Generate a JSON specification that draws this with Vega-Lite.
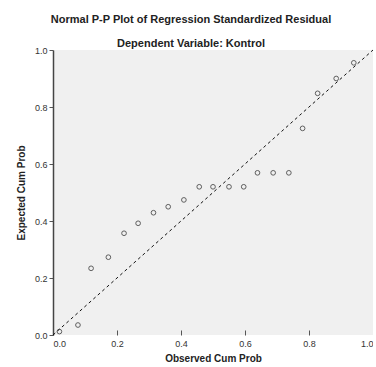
{
  "$schema": "https://vega.github.io/schema/vega-lite/v6.json",
  "autosize": "none",
  "width": 320,
  "height": 285,
  "padding": {"left": 53, "top": 50, "right": 0, "bottom": 32},
  "background": "white",
  "title": {
    "text": "Normal P-P Plot of Regression Standardized Residual",
    "subtitle": "Dependent Variable: Kontrol",
    "font": "Liberation Sans",
    "fontSize": 11,
    "fontWeight": "bold",
    "color": "#222222",
    "subtitleFont": "Liberation Sans",
    "subtitleFontSize": 11,
    "subtitleFontWeight": "bold",
    "subtitleColor": "#222222",
    "subtitlePadding": 13,
    "offset": -3,
    "dx": -22,
    "anchor": "middle"
  },
  "config": {
    "view": {"fill": "#f0f0f0", "stroke": null},
    "axis": {
      "labelFont": "Liberation Sans",
      "labelFontSize": 9,
      "labelColor": "#333333",
      "titleFont": "Liberation Sans",
      "titleFontSize": 10,
      "titleFontWeight": "bold",
      "titleColor": "#222222",
      "grid": false
    }
  },
  "data": {
    "values": [
      {"obs": 0.02, "exp": 0.012},
      {"obs": 0.078, "exp": 0.035},
      {"obs": 0.119, "exp": 0.234},
      {"obs": 0.173, "exp": 0.273},
      {"obs": 0.222, "exp": 0.357},
      {"obs": 0.266, "exp": 0.392},
      {"obs": 0.314, "exp": 0.429},
      {"obs": 0.36, "exp": 0.45},
      {"obs": 0.409, "exp": 0.474},
      {"obs": 0.457, "exp": 0.52},
      {"obs": 0.5, "exp": 0.52},
      {"obs": 0.55, "exp": 0.52},
      {"obs": 0.596, "exp": 0.52},
      {"obs": 0.639, "exp": 0.569},
      {"obs": 0.688, "exp": 0.569},
      {"obs": 0.737, "exp": 0.569},
      {"obs": 0.78, "exp": 0.725},
      {"obs": 0.827, "exp": 0.848},
      {"obs": 0.885, "exp": 0.9},
      {"obs": 0.94, "exp": 0.955}
    ]
  },
  "layer": [
    {
      "data": {"values": [{"a": 0, "b": 0}, {"a": 1, "b": 1}]},
      "mark": {"type": "line", "color": "#111111", "strokeWidth": 1, "strokeDash": [3, 3]},
      "encoding": {
        "x": {"field": "a", "type": "quantitative"},
        "y": {"field": "b", "type": "quantitative"}
      }
    },
    {
      "mark": {"type": "point", "shape": "circle", "filled": false, "color": "#222222", "size": 22, "strokeWidth": 1},
      "encoding": {
        "x": {
          "field": "obs",
          "type": "quantitative",
          "title": "Observed Cum Prob",
          "scale": {"domain": [0, 1], "nice": false},
          "axis": {"values": [0, 0.2, 0.4, 0.6, 0.8, 1.0], "format": ".1f", "domain": false, "tickColor": "#555555", "tickSize": -5, "labelPadding": 9, "titlePadding": 5, "labelFlush": true}
        },
        "y": {
          "field": "exp",
          "type": "quantitative",
          "title": "Expected Cum Prob",
          "scale": {"domain": [0, 1], "nice": false},
          "axis": {"values": [0, 0.2, 0.4, 0.6, 0.8, 1.0], "format": ".1f", "domainColor": "#444444", "domainWidth": 1.5, "tickColor": "#555555", "tickSize": 4, "titlePadding": 8}
        }
      }
    }
  ]
}
